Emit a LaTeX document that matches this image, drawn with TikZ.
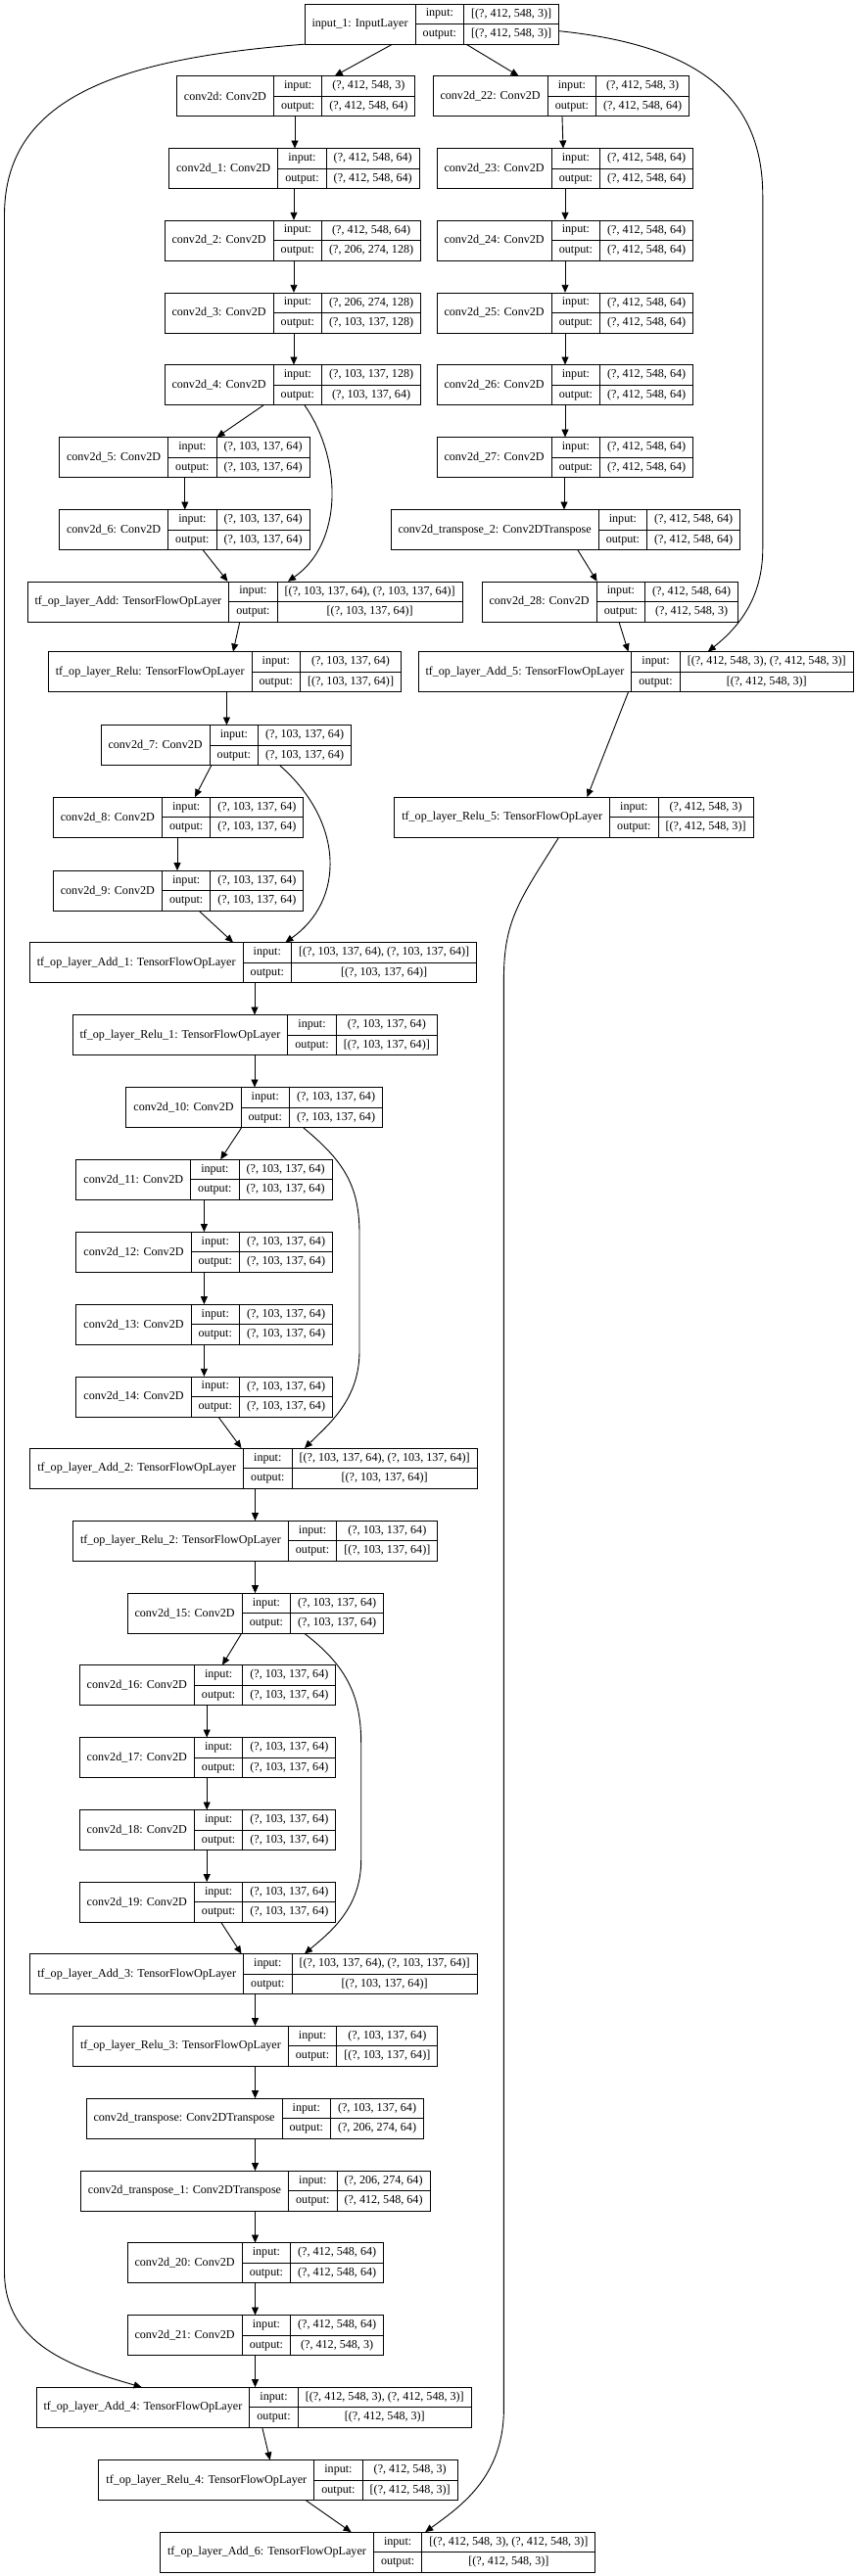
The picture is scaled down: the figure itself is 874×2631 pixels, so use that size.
\documentclass[tikz,border=0pt]{standalone}
\usepackage{fontspec}
\setmainfont{Liberation Serif}
\usetikzlibrary{arrows.meta,fit}

\newcommand{\lfont}{\fontsize{12.1pt}{20.5pt}\selectfont}
% one keras layer: id, left x, top y, name, input shape, output shape
\newcommand{\layerbox}[6]{%
  \node[namecell, anchor=north west] (#1n) at (#2,#3) {#4};
  \node[keycell, anchor=north west] (#1k) at (#1n.north east) {input:\\{}output:};
  \node[valcell, anchor=north west] (#1v) at (#1k.north east) {{}#5\\{}#6};
  \draw[line width=0.9pt] (#1k.west) -- (#1v.east);
  \node[fit=(#1n)(#1v), inner sep=0pt] (#1) {};
}

\begin{document}
\begin{tikzpicture}[
  x=1pt, y=-1pt,
  cell/.style={draw, outer sep=0pt, font=\lfont, line width=0.9pt, minimum height=41pt, inner ysep=0pt},
  namecell/.style={cell, inner xsep=7.5pt},
  keycell/.style={cell, align=center, minimum width=49.5pt, inner xsep=0pt},
  valcell/.style={cell, align=center, inner xsep=7.5pt},
  link/.style={->, >={Triangle[length=8pt,width=7pt]}, line width=0.9pt}
]
\path[fill=white, use as bounding box] (0,0) rectangle (874,2631);

% Input
\layerbox{in1}{311}{4}{input\_1: InputLayer}{[(?, 412, 548, 3)]}{[(?, 412, 548, 3)]}

% Left branch
\layerbox{conv0}{180.4}{77.7}{conv2d: Conv2D}{(?, 412, 548, 3)}{(?, 412, 548, 64)}
\layerbox{conv1}{172.6}{151.7}{conv2d\_1: Conv2D}{(?, 412, 548, 64)}{(?, 412, 548, 64)}
\layerbox{conv2}{168}{225}{conv2d\_2: Conv2D}{(?, 412, 548, 64)}{(?, 206, 274, 128)}
\layerbox{conv3}{168}{299}{conv2d\_3: Conv2D}{(?, 206, 274, 128)}{(?, 103, 137, 128)}
\layerbox{conv4}{168}{372.7}{conv2d\_4: Conv2D}{(?, 103, 137, 128)}{(?, 103, 137, 64)}
\layerbox{conv5}{60.5}{446.7}{conv2d\_5: Conv2D}{(?, 103, 137, 64)}{(?, 103, 137, 64)}
\layerbox{conv6}{60.5}{520.7}{conv2d\_6: Conv2D}{(?, 103, 137, 64)}{(?, 103, 137, 64)}
\layerbox{add0}{28}{594}{tf\_op\_layer\_Add: TensorFlowOpLayer}{[(?, 103, 137, 64), (?, 103, 137, 64)]}{[(?, 103, 137, 64)]}
\layerbox{relu0}{49.3}{665.7}{tf\_op\_layer\_Relu: TensorFlowOpLayer}{(?, 103, 137, 64)}{[(?, 103, 137, 64)]}
\layerbox{conv7}{103}{740.7}{conv2d\_7: Conv2D}{(?, 103, 137, 64)}{(?, 103, 137, 64)}
\layerbox{conv8}{54.3}{814.3}{conv2d\_8: Conv2D}{(?, 103, 137, 64)}{(?, 103, 137, 64)}
\layerbox{conv9}{54.3}{889.3}{conv2d\_9: Conv2D}{(?, 103, 137, 64)}{(?, 103, 137, 64)}
\layerbox{add1}{30.3}{962.7}{tf\_op\_layer\_Add\_1: TensorFlowOpLayer}{[(?, 103, 137, 64), (?, 103, 137, 64)]}{[(?, 103, 137, 64)]}
\layerbox{relu1}{74}{1036.7}{tf\_op\_layer\_Relu\_1: TensorFlowOpLayer}{(?, 103, 137, 64)}{[(?, 103, 137, 64)]}
\layerbox{conv10}{128.9}{1110.7}{conv2d\_10: Conv2D}{(?, 103, 137, 64)}{(?, 103, 137, 64)}
\layerbox{conv11}{77.9}{1184.3}{conv2d\_11: Conv2D}{(?, 103, 137, 64)}{(?, 103, 137, 64)}
\layerbox{conv12}{77.9}{1258.3}{conv2d\_12: Conv2D}{(?, 103, 137, 64)}{(?, 103, 137, 64)}
\layerbox{conv13}{77.9}{1332.3}{conv2d\_13: Conv2D}{(?, 103, 137, 64)}{(?, 103, 137, 64)}
\layerbox{conv14}{77.9}{1406}{conv2d\_14: Conv2D}{(?, 103, 137, 64)}{(?, 103, 137, 64)}
\layerbox{add2}{30.8}{1479.3}{tf\_op\_layer\_Add\_2: TensorFlowOpLayer}{[(?, 103, 137, 64), (?, 103, 137, 64)]}{[(?, 103, 137, 64)]}
\layerbox{relu2}{74.5}{1553.3}{tf\_op\_layer\_Relu\_2: TensorFlowOpLayer}{(?, 103, 137, 64)}{[(?, 103, 137, 64)]}
\layerbox{conv15}{130}{1627.3}{conv2d\_15: Conv2D}{(?, 103, 137, 64)}{(?, 103, 137, 64)}
\layerbox{conv16}{81.2}{1700.7}{conv2d\_16: Conv2D}{(?, 103, 137, 64)}{(?, 103, 137, 64)}
\layerbox{conv17}{81.2}{1774.7}{conv2d\_17: Conv2D}{(?, 103, 137, 64)}{(?, 103, 137, 64)}
\layerbox{conv18}{81.2}{1848.7}{conv2d\_18: Conv2D}{(?, 103, 137, 64)}{(?, 103, 137, 64)}
\layerbox{conv19}{81.2}{1922.3}{conv2d\_19: Conv2D}{(?, 103, 137, 64)}{(?, 103, 137, 64)}
\layerbox{add3}{30.8}{1995.7}{tf\_op\_layer\_Add\_3: TensorFlowOpLayer}{[(?, 103, 137, 64), (?, 103, 137, 64)]}{[(?, 103, 137, 64)]}
\layerbox{relu3}{74.5}{2069.3}{tf\_op\_layer\_Relu\_3: TensorFlowOpLayer}{(?, 103, 137, 64)}{[(?, 103, 137, 64)]}
\layerbox{convt0}{88}{2143.3}{conv2d\_transpose: Conv2DTranspose}{(?, 103, 137, 64)}{(?, 206, 274, 64)}
\layerbox{convt1}{82.4}{2217.3}{conv2d\_transpose\_1: Conv2DTranspose}{(?, 206, 274, 64)}{(?, 412, 548, 64)}
\layerbox{conv20}{130}{2290.7}{conv2d\_20: Conv2D}{(?, 412, 548, 64)}{(?, 412, 548, 64)}
\layerbox{conv21}{130}{2364.7}{conv2d\_21: Conv2D}{(?, 412, 548, 64)}{(?, 412, 548, 3)}
\layerbox{add4}{37}{2438.3}{tf\_op\_layer\_Add\_4: TensorFlowOpLayer}{[(?, 412, 548, 3), (?, 412, 548, 3)]}{[(?, 412, 548, 3)]}
\layerbox{relu4}{100.9}{2512.7}{tf\_op\_layer\_Relu\_4: TensorFlowOpLayer}{(?, 412, 548, 3)}{[(?, 412, 548, 3)]}
\layerbox{add6}{163.6}{2586.3}{tf\_op\_layer\_Add\_6: TensorFlowOpLayer}{[(?, 412, 548, 3), (?, 412, 548, 3)]}{[(?, 412, 548, 3)]}

% Right branch
\layerbox{conv22}{442}{77.7}{conv2d\_22: Conv2D}{(?, 412, 548, 3)}{(?, 412, 548, 64)}
\layerbox{conv23}{446}{151.7}{conv2d\_23: Conv2D}{(?, 412, 548, 64)}{(?, 412, 548, 64)}
\layerbox{conv24}{446}{225}{conv2d\_24: Conv2D}{(?, 412, 548, 64)}{(?, 412, 548, 64)}
\layerbox{conv25}{446}{299}{conv2d\_25: Conv2D}{(?, 412, 548, 64)}{(?, 412, 548, 64)}
\layerbox{conv26}{446}{372.7}{conv2d\_26: Conv2D}{(?, 412, 548, 64)}{(?, 412, 548, 64)}
\layerbox{conv27}{446}{446.7}{conv2d\_27: Conv2D}{(?, 412, 548, 64)}{(?, 412, 548, 64)}
\layerbox{convt2}{399}{520.7}{conv2d\_transpose\_2: Conv2DTranspose}{(?, 412, 548, 64)}{(?, 412, 548, 64)}
\layerbox{conv28}{492}{594}{conv2d\_28: Conv2D}{(?, 412, 548, 64)}{(?, 412, 548, 3)}
\layerbox{add5}{427}{665.7}{tf\_op\_layer\_Add\_5: TensorFlowOpLayer}{[(?, 412, 548, 3), (?, 412, 548, 3)]}{[(?, 412, 548, 3)]}
\layerbox{relu5}{402.8}{814.3}{tf\_op\_layer\_Relu\_5: TensorFlowOpLayer}{(?, 412, 548, 3)}{[(?, 412, 548, 3)]}

% Straight connectors: from / to / x at start / x at end
\foreach \a/\b/\xa/\xb in {
  in1/conv0/400.6/341.8, in1/conv22/476/529.5,
  conv0/conv1/301/301, conv1/conv2/300/300, conv2/conv3/300/300, conv3/conv4/300/300,
  conv4/conv5/269/221.5, conv5/conv6/188.8/188.8, conv6/add0/207.3/232.5,
  add0/relu0/244.8/238, relu0/conv7/231.4/231.4, conv7/conv8/215.7/199,
  conv8/conv9/181/181, conv9/add1/203.4/238, add1/relu1/260/260, relu1/conv10/260/260,
  conv10/conv11/246.5/225.2, conv11/conv12/208.4/208.4, conv12/conv13/208.4/208.4,
  conv13/conv14/208.4/208.4, conv14/add2/223/246.5, add2/relu2/260.5/260.5,
  relu2/conv15/260.5/260.5, conv15/conv16/246.5/227, conv16/conv17/211.2/211.2,
  conv17/conv18/211.2/211.2, conv18/conv19/211.2/211.2, conv19/add3/225.8/246.5,
  add3/relu3/260.5/260.5, relu3/convt0/260.5/260.5, convt0/convt1/260.5/260.5,
  convt1/conv20/260.5/260.5, conv20/conv21/260.5/260.5, conv21/add4/260.5/260.5,
  add4/relu4/267.8/275.7, relu4/add6/312.6/358.6,
  conv22/conv23/574/575, conv23/conv24/577/577, conv24/conv25/577/577,
  conv25/conv26/577/577, conv26/conv27/577/577, conv27/convt2/576/576,
  convt2/conv28/590/609.6, conv28/add5/632/641.5, add5/relu5/641.5/599.5}
  \draw[link] (\a.south -| \xa,0) -- (\b.north -| \xb,0);

% Skip connections
\draw[link] (in1.south west) .. controls (120,60) and (4.5,100) .. (4.5,220)
  -- (4.5,2320) .. controls (4.5,2395) and (75,2418) .. (add4.north -| 144.6,0);
\draw[link] (in1.east |- 0,31.7) .. controls (700,45) and (778.8,90) .. (778.8,200)
  -- (778.8,560) .. controls (778.8,610) and (755,640) .. (add5.north -| 722.8,0);
\draw[link] (relu5.south -| 570.4,0) .. controls (530,920) and (514.4,940) .. (514.4,1000)
  -- (514.4,2460) .. controls (514.4,2530) and (470,2560) .. (add6.north -| 434.2,0);
\draw[link] (conv4.south -| 311,0) .. controls (350,470) and (350,555) .. (add0.north -| 294,0);
\draw[link] (conv7.south -| 285.8,0) .. controls (352,840) and (352,920) .. (add1.north -| 291.4,0);
\draw[link] (conv10.south -| 309.8,0) .. controls (350,1185) and (367,1210) .. (367,1260)
  -- (367,1380) .. controls (367,1430) and (335,1455) .. (add2.north -| 311,0);
\draw[link] (conv15.south -| 311,0) .. controls (352,1700) and (368.7,1730) .. (368.7,1780)
  -- (368.7,1900) .. controls (368.7,1950) and (335,1975) .. (add3.north -| 311,0);
\end{tikzpicture}
\end{document}
